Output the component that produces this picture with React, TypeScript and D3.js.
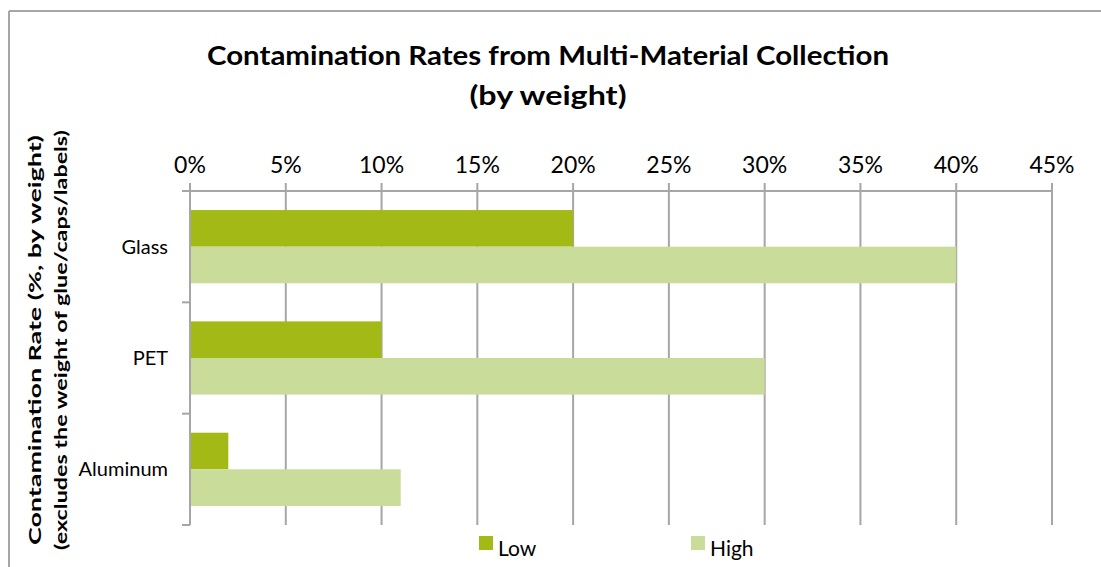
import React from "react";
import * as d3 from "d3";

const categories = ["Glass", "PET", "Aluminum"];
const seriesNames = ["Low", "High"];
const lowValues = [0.2, 0.1, 0.02];
const highValues = [0.4, 0.3, 0.11];
const xTicks = [0, 0.05, 0.1, 0.15, 0.2, 0.25, 0.3, 0.35, 0.4, 0.45];
const colors = ["#A2B916", "#C9DC9A"];

const W = 1101;
const H = 567;
const FONT = "Lato, 'Open Sans', sans-serif";

export default function App() {
  const left = 190, right = 1052, top = 191, bottom = 525;
  const x = d3.scaleLinear().domain([0, 0.45]).range([left, right]);
  const y = d3.scaleBand<string>().domain(categories).range([top, bottom]).paddingInner(0).paddingOuter(0);
  const inner = d3.scaleBand<string>().domain(seriesNames).range([0, y.bandwidth()]).paddingInner(0).paddingOuter(0.52);
  const series = [lowValues, highValues];
  const grid = "#A6A6A6";
  const fmt = d3.format(".0%");

  return (
    <svg width={W} height={H} style={{ position: "absolute", left: 0, top: 0 }} fontFamily={FONT}>
      <rect x={0} y={0} width={W} height={H} fill="#fff" />
      <line x1={9} y1={11} x2={W} y2={11} stroke={grid} strokeWidth={2} />
      <line x1={9} y1={11} x2={9} y2={H} stroke={grid} strokeWidth={2} />

      <text x={548} y={65} textAnchor="middle" fontSize={26} fontWeight={700} fill="#000" textLength={682} lengthAdjust="spacingAndGlyphs">
        Contamination Rates from Multi-Material Collection
      </text>
      <text x={548} y={105} textAnchor="middle" fontSize={26} fontWeight={700} fill="#000" textLength={157} lengthAdjust="spacingAndGlyphs">
        (by weight)
      </text>

      {/* gridlines */}
      {xTicks.map((t) => (
        <g key={t}>
          <line x1={x(t)} x2={x(t)} y1={top - 8} y2={bottom} stroke={grid} strokeWidth={2} />
          <text x={x(t)} y={173} textAnchor="middle" fontSize={23} fill="#000">
            {fmt(t)}
          </text>
        </g>
      ))}
      <line x1={left} x2={right} y1={top} y2={top} stroke={grid} strokeWidth={2} />

      {/* bars */}
      {categories.map((c, i) =>
        series.map((vals, j) => (
          <rect
            key={c + j}
            x={x(0)}
            y={(y(c) as number) + (inner(seriesNames[j]) as number)}
            width={x(vals[i]) - x(0)}
            height={inner.bandwidth()}
            fill={colors[j]}
          />
        ))
      )}

      {/* left axis */}
      <line x1={left} x2={left} y1={top} y2={bottom} stroke={grid} strokeWidth={2} />
      {[...categories.map((c) => y(c) as number), bottom].map((v, i) => (
        <line key={i} x1={left - 8} x2={left} y1={v} y2={v} stroke={grid} strokeWidth={2} />
      ))}
      {categories.map((c) => (
        <text key={c} x={168} y={(y(c) as number) + y.bandwidth() / 2 + 7} textAnchor="end" fontSize={20} fill="#000">
          {c}
        </text>
      ))}

      {/* y-axis title */}
      <g transform="translate(41,340) rotate(-90)">
        <text x={0} y={0} textAnchor="middle" fontSize={17} fontWeight={700} fill="#000" textLength={410} lengthAdjust="spacingAndGlyphs">
          Contamination Rate (%, by weight)
        </text>
      </g>
      <g transform="translate(67,340) rotate(-90)">
        <text x={0} y={0} textAnchor="middle" fontSize={17} fontWeight={700} fill="#000" textLength={420} lengthAdjust="spacingAndGlyphs">
          (excludes the weight of glue/caps/labels)
        </text>
      </g>

      {/* legend */}
      {seriesNames.map((s, j) => {
        const lx = j === 0 ? 479 : 691;
        return (
          <g key={s}>
            <rect x={lx} y={536} width={14} height={14} fill={colors[j]} />
            <text x={lx + 19} y={556} fontSize={21} fill="#000">
              {s}
            </text>
          </g>
        );
      })}
    </svg>
  );
}
